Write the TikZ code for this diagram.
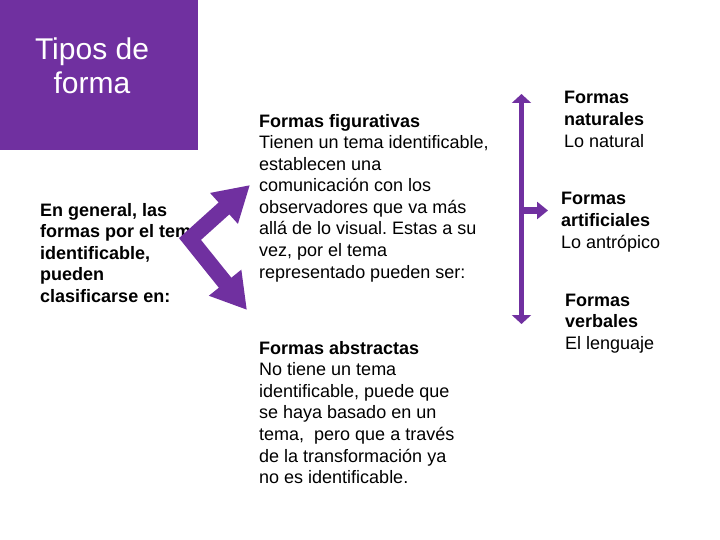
\documentclass[tikz,border=0pt]{standalone}
\usepackage{fontspec}
\setmainfont{Liberation Sans}
\frenchspacing
\usetikzlibrary{arrows.meta,positioning}
\definecolor{tipopurple}{HTML}{7030A0}
\tikzset{
  txt/.style={anchor=base west,align=left,inner sep=0pt,font=\fontsize{18}{21.6}\selectfont},
  bigarrow/.style={draw=tipopurple,line width=16pt,line join=miter,{Triangle[length=35pt,width=39pt]}-{Triangle[length=35pt,width=39pt]}},
  thinarrow/.style={draw=tipopurple,line width=5.5pt,{Triangle[length=9pt,width=19pt]}-{Triangle[length=9pt,width=19pt]}},
  brancharrow/.style={draw=tipopurple,line width=7pt,-{Triangle[length=11pt,width=17pt]}}
}
\begin{document}
\begin{tikzpicture}[x=1pt,y=-1pt]
      \useasboundingbox (0,0) rectangle (720,540);
      \fill[tipopurple] (0,0) rectangle (198,150);
      % base anchors sit on the last line of each block
      \node[anchor=base,align=center,inner sep=0pt,text=white,font=\fontsize{30}{34}\selectfont] (title) at (92,93.5) {Tipos de\\forma};
      \node[txt,font=\fontsize{18}{21.6}\selectfont\bfseries] (general) at (40,302.4) {En general, las\\formas por el tema\\identificable,\\pueden\\clasificarse en:};
      \node[txt] (figur) at (259,278.2) {\textbf{Formas figurativas}\\Tienen un tema identificable,\\establecen una\\comunicación con los\\observadores que va más\\allá de lo visual. Estas a su\\vez, por el tema\\representado pueden ser:};
      \node[txt] (abstr) at (259,483.6) {\textbf{Formas abstractas}\\No tiene un tema\\identificable, puede que\\se haya basado en un\\tema,\ \ pero que a través\\de la transformación ya\\no es identificable.};
      \node[txt] (natur) at (564,147.2) {\textbf{Formas}\\\textbf{naturales}\\Lo natural};
      \node[txt] (artif) at (561,248.2) {\textbf{Formas}\\\textbf{artificiales}\\Lo antrópico};
      \node[txt] (verba) at (565,349.2) {\textbf{Formas}\\\textbf{verbales}\\El lenguaje};
      % chevron arrow from the left text to both kinds
      \coordinate (ctop) at (250,185);
      \coordinate (cmid) at (190,239);
      \coordinate (cbot) at (247,310);
      \draw[bigarrow] (ctop) -- (cmid) -- (cbot);
      % bracket on the right
      \coordinate (rtop) at (521.5,94);
      \coordinate (rbot) at (521.5,324);
      \coordinate (rmid) at (521.5,210.5);
      \coordinate (rtip) at (548,210.5);
      \draw[thinarrow] (rtop) -- (rbot);
      \draw[brancharrow] (rmid) -- (rtip);
    \end{tikzpicture}
\end{document}
